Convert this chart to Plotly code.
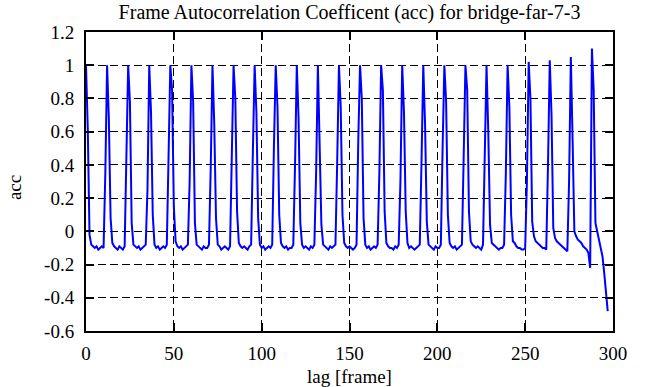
import plotly.graph_objects as go

# acc values for lag 0..297, one row of 12 lags per line
acc = [
    1.00, 0.62, -0.02, -0.08, -0.09, -0.10, -0.09, -0.11, -0.10, -0.09, -0.10, 0.35,
    1.00, 0.68, 0.08, -0.07, -0.09, -0.10, -0.11, -0.09, -0.10, -0.11, -0.09, 0.42,
    1.00, 0.78, 0.05, -0.08, -0.09, -0.10, -0.09, -0.11, -0.10, -0.09, -0.08, 0.25,
    1.00, 0.72, 0.10, -0.08, -0.10, -0.09, -0.11, -0.10, -0.09, -0.10, -0.08, 0.45,
    1.00, 0.85, 0.15, -0.06, -0.09, -0.10, -0.09, -0.11, -0.10, -0.09, -0.08, 0.30,
    1.00, 0.78, 0.05, -0.08, -0.09, -0.10, -0.11, -0.09, -0.10, -0.10, -0.08, 0.38,
    1.00, 0.65, 0.08, -0.08, -0.09, -0.11, -0.10, -0.09, -0.10, -0.11, -0.09, 0.40,
    1.00, 0.80, 0.12, -0.07, -0.09, -0.10, -0.09, -0.10, -0.11, -0.09, -0.08, 0.48,
    1.00, 0.72, 0.08, -0.08, -0.10, -0.09, -0.11, -0.10, -0.09, -0.10, -0.08, 0.52,
    1.00, 0.75, 0.10, -0.07, -0.09, -0.10, -0.09, -0.11, -0.10, -0.10, -0.08, 0.40,
    1.00, 0.68, 0.05, -0.08, -0.10, -0.09, -0.10, -0.11, -0.09, -0.10, -0.08, 0.35,
    1.00, 0.60, 0.04, -0.08, -0.09, -0.10, -0.11, -0.09, -0.10, -0.09, -0.08, 0.42,
    1.00, 0.75, 0.10, -0.07, -0.09, -0.10, -0.09, -0.10, -0.11, -0.10, -0.08, 0.55,
    1.00, 0.80, 0.08, -0.08, -0.10, -0.09, -0.11, -0.10, -0.09, -0.10, -0.08, 0.35,
    1.00, 0.85, 0.12, -0.07, -0.09, -0.10, -0.10, -0.11, -0.09, -0.10, -0.08, 0.30,
    1.00, 0.72, 0.12, -0.07, -0.10, -0.09, -0.10, -0.11, -0.10, -0.09, -0.08, 0.42,
    1.00, 0.65, 0.06, -0.08, -0.09, -0.10, -0.11, -0.09, -0.10, -0.10, -0.08, 0.50,
    1.00, 0.78, 0.10, -0.07, -0.09, -0.10, -0.09, -0.11, -0.10, -0.09, -0.08, 0.45,
    1.00, 0.85, 0.12, -0.06, -0.08, -0.09, -0.10, -0.09, -0.10, -0.11, -0.08, 0.40,
    1.00, 0.60, 0.04, -0.07, -0.08, -0.09, -0.10, -0.11, -0.10, -0.10, -0.08, 0.35,
    1.00, 0.75, 0.10, -0.06, -0.07, -0.09, -0.10, -0.10, -0.11, -0.11, -0.10, 0.30,
    1.02, 0.80, 0.06, -0.03, -0.06, -0.07, -0.08, -0.09, -0.10, -0.10, -0.11, 0.40,
    1.03, 0.70, 0.02, -0.04, -0.06, -0.07, -0.08, -0.09, -0.10, -0.11, -0.12, 0.30,
    1.05, 0.55, 0.00, -0.03, -0.05, -0.06, -0.07, -0.09, -0.10, -0.11, -0.13, -0.22,
    1.10, 0.85, 0.05, 0.00, -0.04, -0.08, -0.15, -0.25, -0.35, -0.48,
]
lags = list(range(len(acc)))

x_ticks = [0, 50, 100, 150, 200, 250, 300]
y_ticks = [-0.6, -0.4, -0.2, 0, 0.2, 0.4, 0.6, 0.8, 1, 1.2]
y_tick_text = ["-0.6", "-0.4", "-0.2", "0", "0.2", "0.4", "0.6", "0.8", "1", "1.2"]

title_text = "Frame Autocorrelation Coefficent (acc) for bridge-far-7-3"
x_label = "lag [frame]"
y_label = "acc"

FAMILY = "Liberation Serif, Times New Roman, serif"
tick_font = dict(family=FAMILY, size=19, color="black")
label_font = dict(family=FAMILY, size=19, color="black")
title_font = dict(family=FAMILY, size=20, color="black")

fig = go.Figure()
fig.add_trace(go.Scatter(x=lags, y=acc, mode="lines",
                         line=dict(color="#0000ff", width=2), showlegend=False))

axis_common = dict(
    showgrid=True, gridcolor="black", gridwidth=1, griddash="8px,4px",
    showline=True, linecolor="black", linewidth=2, mirror="ticks",
    ticks="inside", ticklen=8, tickwidth=1.5, tickcolor="black",
    zeroline=False, tickfont=tick_font,
)

fig.update_xaxes(range=[0, 300], tickvals=x_ticks, ticklabelstandoff=4,
                 **axis_common)
fig.update_yaxes(range=[-0.6, 1.2], tickvals=y_ticks, ticktext=y_tick_text,
                 ticklabelstandoff=6, **axis_common)

fig.update_layout(
    width=646, height=387,
    margin=dict(l=86, r=33, t=32, b=56),
    paper_bgcolor="white", plot_bgcolor="white",
    title=dict(text=title_text, font=title_font, xref="paper", x=0.5,
               xanchor="center", yref="container", y=0.97, yanchor="middle"),
    font=label_font,
    annotations=[
        dict(text=x_label, xref="paper", yref="paper", x=0.5, y=0,
             xanchor="center", yanchor="middle", showarrow=False, font=label_font,
             yshift=-45),
        dict(text=y_label, xref="paper", yref="paper", x=0, y=0.478,
             xanchor="center", yanchor="middle", showarrow=False, font=label_font,
             textangle=-90, xshift=-72),
    ],
)

fig.write_html("out.html")
